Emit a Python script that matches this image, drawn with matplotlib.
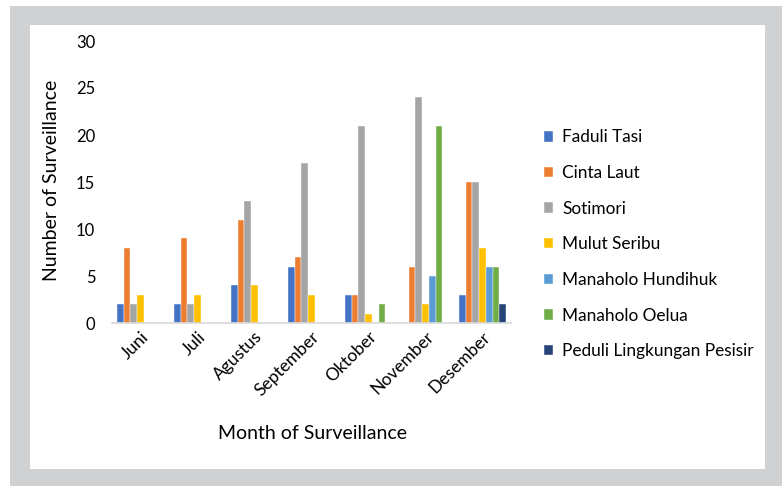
import matplotlib
matplotlib.use("Agg")
import matplotlib.pyplot as plt
import numpy as np
from matplotlib.patches import Rectangle

months = ["Juni", "Juli", "Agustus", "September", "Oktober", "November", "Desember"]
series = ["Faduli Tasi", "Cinta Laut", "Sotimori", "Mulut Seribu",
          "Manaholo Hundihuk", "Manaholo Oelua", "Peduli Lingkungan Pesisir"]
faduli_tasi = [2, 2, 4, 6, 3, 0, 3]
cinta_laut = [8, 9, 11, 7, 3, 6, 15]
sotimori = [2, 2, 13, 17, 21, 24, 15]
mulut_seribu = [3, 3, 4, 3, 1, 2, 8]
manaholo_hundihuk = [0, 0, 0, 0, 0, 5, 6]
manaholo_oelua = [0, 0, 0, 0, 2, 21, 6]
peduli_pesisir = [0, 0, 0, 0, 0, 0, 2]
values = [faduli_tasi, cinta_laut, sotimori, mulut_seribu,
          manaholo_hundihuk, manaholo_oelua, peduli_pesisir]
colors = ["#4472C4", "#ED7D31", "#A5A5A5", "#FFC000", "#5B9BD5", "#70AD47", "#264478"]

plt.rcParams['font.family'] = ['Lato', 'DejaVu Sans']

W, H = 782, 486
fig = plt.figure(figsize=(W / 100, H / 100), dpi=100)
fig.patch.set_facecolor("white")
fig.patches.append(Rectangle((10 / W, 0), 1 - 10 / W, 1 - 6 / H, transform=fig.transFigure,
                             facecolor="#D0D1D3", edgecolor="none", zorder=-10))
fig.patches.append(Rectangle((30 / W, 1 - 469 / H), (765 - 30) / W, (469 - 25) / H,
                             transform=fig.transFigure, facecolor="white",
                             edgecolor="none", zorder=-9))

ax = fig.add_axes([112 / W, 1 - 323 / H, (511 - 112) / W, (323 - 41) / H])
ax.set_facecolor("none")
x = np.arange(len(months))
n = len(series)
bw = 0.117
for i, (name, vals, c) in enumerate(zip(series, values, colors)):
    ax.bar(x + (i - (n - 1) / 2) * bw, vals, width=bw, color=c, label=name,
           edgecolor="white", linewidth=0.3)

ax.set_xlim(-0.5, len(months) - 0.5)
ax.set_ylim(0, 30)
ax.set_yticks(range(0, 31, 5))
ax.tick_params(axis="y", length=0, labelsize=12, pad=12, colors="#000000")
ax.tick_params(axis="x", length=0, labelsize=12.5, pad=4)
ax.set_xticks(x)
ax.set_xticklabels(months, rotation=45, ha="right", rotation_mode="anchor")
for s in ["top", "right", "left"]:
    ax.spines[s].set_visible(False)
ax.spines["bottom"].set_color("#D9D9D9")
ax.spines["bottom"].set_linewidth(1.2)

ax.set_ylabel("Number of Surveillance", fontsize=14)
ax.yaxis.set_label_coords((60 - 112) / (511 - 112), 0.504)
fig.text(312 / W, 1 - 433 / H, "Month of Surveillance", fontsize=14,
         ha="center", va="center")

leg = fig.legend(loc="upper left", bbox_to_anchor=(528 / W, 1 - 114 / H),
                 frameon=False, fontsize=12.4, handlelength=0.55, handleheight=0.55,
                 handletextpad=0.55, labelspacing=1.14)

fig.savefig("out.png", dpi=100, facecolor="white")
